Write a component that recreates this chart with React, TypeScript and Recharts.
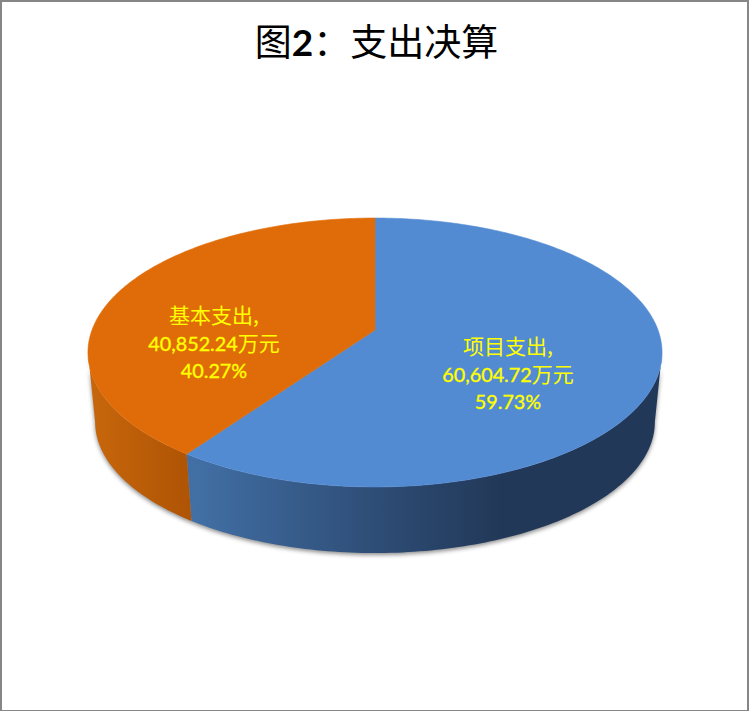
import { PieChart, Pie } from "recharts";

const categories = ["项目支出", "基本支出"];
const amounts = [60604.72, 40852.24];
const unit = "万元";
const titleParts = ["图", "2", "：", "支出决算"];

const TOP_COLORS = ["#538BD3", "#E06C09"];
const WALL_STOPS = [
  [
    [0.178, "#4270A6"],
    [0.5, "#2E4D76"],
    [0.72, "#223858"],
    [1, "#223858"],
  ],
  [
    [0, "#C8670C"],
    [0.178, "#AF5405"],
  ],
];

const data = categories.map((name, i) => ({ name, value: amounts[i] }));

// the pie is a flat circle seen in perspective
const TILT = 0.4618;
const PERSPECTIVE = 0.1673;
const DEPTH = 70;
const BOTTOM_SCALE = 0.975;
// where the rim turns away from the viewer, left and right
const HORIZON = (Math.asin(PERSPECTIVE) * 180) / Math.PI;
const FONT = "Lato, 'Noto Sans CJK SC', sans-serif";
const CJK = "'Noto Sans CJK SC', sans-serif";

const LABEL_OFFSETS = [
  { x: 133, y: 45 },
  { x: -161, y: 14 },
];

function project(cx: number, cy: number, r: number, deg: number, bottom = false) {
  const u = Math.cos((deg * Math.PI) / 180);
  const v = Math.sin((deg * Math.PI) / 180);
  const w = 1 + PERSPECTIVE * v;
  const s = bottom ? BOTTOM_SCALE : 1;
  return {
    x: cx + (s * r * u) / w,
    y: cy + (bottom ? DEPTH : 0) - (s * r * TILT * v) / w,
  };
}

function arc(cx: number, cy: number, r: number, from: number, to: number, bottom = false) {
  const steps = Math.max(2, Math.ceil(Math.abs(from - to)));
  const pts = [];
  for (let i = 0; i <= steps; i++) {
    const p = project(cx, cy, r, from + ((to - from) * i) / steps, bottom);
    pts.push(`${p.x.toFixed(2)} ${p.y.toFixed(2)}`);
  }
  return pts;
}

function TopFace(props: any) {
  const { cx, cy, outerRadius, startAngle, endAngle, index } = props;
  const pts = arc(cx, cy, outerRadius, startAngle, endAngle);
  const color = TOP_COLORS[index];
  return <path d={`M${cx} ${cy}L${pts.join("L")}Z`} fill={color} stroke={color} strokeWidth={0.6} />;
}

function Wall(props: any) {
  const { cx, cy, outerRadius, startAngle, endAngle, index } = props;
  const from = Math.min(startAngle, -HORIZON);
  const to = Math.max(endAngle, -180 + HORIZON);
  const top = arc(cx, cy, outerRadius, from, to);
  const bottom = arc(cx, cy, outerRadius, to, from, true);
  const id = `wall-${index}`;
  return (
    <g>
      <defs>
        <linearGradient
          id={id}
          gradientUnits="userSpaceOnUse"
          x1={cx - outerRadius - 4}
          x2={cx + outerRadius + 4}
          y1={0}
          y2={0}
        >
          {WALL_STOPS[index].map(([o, c]) => (
            <stop key={o as number} offset={o as number} stopColor={c as string} />
          ))}
        </linearGradient>
      </defs>
      <path d={`M${top.join("L")}L${bottom.join("L")}Z`} fill={`url(#${id})`} />
    </g>
  );
}

function SliceLabel(props: any) {
  const { cx, cy, index, name, value, percent } = props;
  const x = cx + LABEL_OFFSETS[index].x;
  const y = cy + LABEL_OFFSETS[index].y;
  const amount = value.toLocaleString("en-US", { minimumFractionDigits: 2 });
  return (
    <text x={x} textAnchor="middle" fill="#FFFF00" fontFamily={FONT} fontSize={19.8}>
      <tspan x={x} y={y - 21} fontFamily={CJK} fontSize={21}>
        {name},
      </tspan>
      <tspan x={x} y={y + 7} stroke="#FFFF00" strokeWidth={0.35}>
        {amount}
        <tspan fontFamily={CJK} fontSize={21} stroke="none">
          {unit}
        </tspan>
      </tspan>
      <tspan x={x} y={y + 34} stroke="#FFFF00" strokeWidth={0.35}>
        {(percent * 100).toFixed(2)}%
      </tspan>
    </text>
  );
}

export default function App() {
  return (
    <div style={{ position: "absolute", left: 0, top: 0, width: 749, height: 711, background: "#fff" }}>
      <style>{`.pie-walls { filter: drop-shadow(0 2px 2px rgba(0,0,0,0.45)); }`}</style>
      <PieChart width={749} height={711} margin={{ top: 0, right: 0, bottom: 0, left: 0 }}>
        <text x={376.5} y={56} textAnchor="middle" fontFamily={CJK} fontSize={37} fill="#000">
          <tspan>{titleParts[0]}</tspan>
          <tspan fontFamily={FONT} fontWeight={700}>{titleParts[1]}</tspan>
          <tspan>{titleParts[2]}</tspan>
          <tspan>{titleParts[3]}</tspan>
        </text>
        <Pie
          className="pie-walls"
          data={data}
          dataKey="value"
          nameKey="name"
          cx={375}
          cy={330}
          outerRadius={283}
          startAngle={90}
          endAngle={-270}
          stroke="none"
          shape={Wall}
          isAnimationActive={false}
        />
        <Pie
          data={data}
          dataKey="value"
          nameKey="name"
          cx={375}
          cy={330}
          outerRadius={283}
          startAngle={90}
          endAngle={-270}
          stroke="none"
          shape={TopFace}
          label={SliceLabel}
          labelLine={false}
          isAnimationActive={false}
        />
      </PieChart>
      <div
        style={{
          position: "absolute",
          inset: 0,
          boxSizing: "border-box",
          borderStyle: "solid",
          borderColor: "#868686",
          borderWidth: "2px 2px 1px 2px",
          pointerEvents: "none",
        }}
      />
    </div>
  );
}
